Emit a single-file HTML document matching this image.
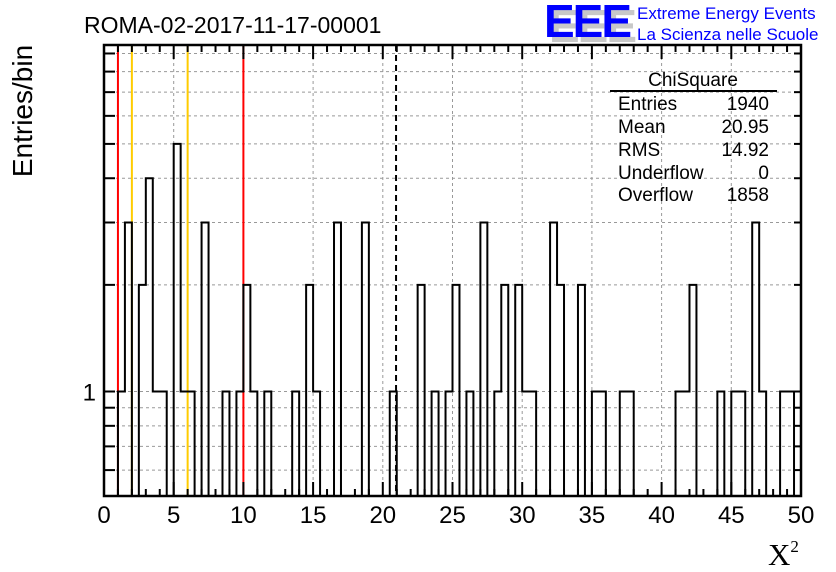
<!DOCTYPE html>
<html><head><meta charset="utf-8">
<style>
html,body{margin:0;padding:0;background:#fff;}
svg{display:block;font-family:"Liberation Sans",sans-serif;}
</style></head>
<body>
<svg id="chart" width="836" height="572" viewBox="0 0 836 572" xmlns="http://www.w3.org/2000/svg">
<rect x="0" y="0" width="836" height="572" fill="#fff"/>
<g id="grid"></g>
<g id="lines"></g>
<g id="hist"></g>
<g id="axes"></g>
<text x="84" y="33" font-size="23" fill="#000">ROMA-02-2017-11-17-00001</text>
<g>
<text x="549" y="42" font-size="46" font-weight="bold" fill="#c8c8c8" letter-spacing="-2">EEE</text>
<text x="544" y="37" font-size="46" font-weight="bold" fill="#0000ff" letter-spacing="-2">EEE</text>
<text x="637" y="19" font-size="17" fill="#0000ff">Extreme Energy Events</text>
<text x="637" y="40" font-size="17" fill="#0000ff">La Scienza nelle Scuole</text>
</g>
<g font-size="19" fill="#000">
<text x="693" y="86" text-anchor="middle">ChiSquare</text>
<line x1="610" y1="91" x2="777" y2="91" stroke="#000" stroke-width="2"/>
<text x="618" y="110">Entries</text><text x="769" y="110" text-anchor="end">1940</text>
<text x="618" y="133">Mean</text><text x="769" y="133" text-anchor="end">20.95</text>
<text x="618" y="156">RMS</text><text x="769" y="156" text-anchor="end">14.92</text>
<text x="618" y="179">Underflow</text><text x="769" y="179" text-anchor="end">0</text>
<text x="618" y="201">Overflow</text><text x="769" y="201" text-anchor="end">1858</text>
</g>
<text transform="translate(32,111) rotate(-90)" text-anchor="middle" font-size="28" fill="#000">Entries/bin</text>
<text x="768" y="565" font-family="'Liberation Serif',serif" font-size="31" fill="#000">X<tspan font-size="17" dy="-13">2</tspan></text>
</svg>
<script>
const counts = [0,0,1,3,0,2,4,1,1,0,5,1,1,0,3,0,0,1,0,1,2,1,0,1,0,0,0,1,0,2,1,0,0,3,0,0,0,3,0,0,0,1,0,0,0,2,0,1,0,1,2,0,1,0,3,0,1,2,0,2,1,1,0,0,3,2,0,0,2,0,1,1,0,0,1,1,0,0,0,0,0,0,1,1,2,0,0,0,1,0,1,1,0,3,1,0,0,1,1,0];
const xTicks = [0,5,10,15,20,25,30,35,40,45,50];
const yGrid = [0.6,0.7,0.8,0.9,1,2,3,4,5,6,7,8,9];
const yLabels = [1];
const redLines = [1,10];
const yellowLines = [2,6];
const meanValue = [20.95];

const X0=104,X1=801,Y0=496,Y1=45, XMIN=0,XMAX=50, YMIN=0.507,YMAX=9.51;
const NS="http://www.w3.org/2000/svg";
const sx=v=>X0+(v-XMIN)/(XMAX-XMIN)*(X1-X0);
const sy=v=>Y0-(Math.log10(v)-Math.log10(YMIN))/(Math.log10(YMAX)-Math.log10(YMIN))*(Y0-Y1);
function mk(tag,attrs,parent){const e=document.createElementNS(NS,tag);for(const k in attrs)e.setAttribute(k,attrs[k]);parent.appendChild(e);return e;}
const grid=document.getElementById('grid'),lines=document.getElementById('lines'),hist=document.getElementById('hist'),axes=document.getElementById('axes');

yGrid.forEach(v=>{const y=sy(v);
 const g=mk('line',{x1:X0,x2:X1,y1:y,y2:y,stroke:'#999','stroke-dasharray':'3,3','stroke-width':1},grid);
 
 
 const t=mk('line',{x1:X0,x2:X0+11,y1:y,y2:y,stroke:'#000','stroke-width':2},axes);
 
 
 const t2=mk('line',{x1:X1-7,x2:X1,y1:y,y2:y,stroke:'#000','stroke-width':2},axes);
 
 
});
xTicks.forEach(v=>{const x=sx(v);
 const g=mk('line',{x1:x,x2:x,y1:Y1,y2:Y0,stroke:'#999','stroke-dasharray':'3,3','stroke-width':1},grid);
 
 
 const l=mk('text',{x:x,y:523,'text-anchor':'middle','font-size':24,fill:'#000'},axes);
 l.textContent=v;
 
 
});
for(let v=XMIN;v<=XMAX;v++){const x=sx(v);const L=(v%5===0)?14:7;
 const a=mk('line',{x1:x,x2:x,y1:Y0,y2:Y0-L,stroke:'#000','stroke-width':2},axes);
 
 
 const b=mk('line',{x1:x,x2:x,y1:Y1,y2:Y1+L,stroke:'#000','stroke-width':2},axes);
 
 
}
yLabels.forEach(v=>{const l=mk('text',{x:96,y:sy(v)+9,'text-anchor':'end','font-size':24,fill:'#000'},axes);
 l.textContent=v;
 
 
});
redLines.forEach(v=>{const l=mk('line',{x1:sx(v),x2:sx(v),y1:Y1,y2:Y0,stroke:'#ff0000','stroke-width':2},lines);
 
 
});
yellowLines.forEach(v=>{const l=mk('line',{x1:sx(v),x2:sx(v),y1:Y1,y2:Y0,stroke:'#ffcc00','stroke-width':2},lines);
 
 
});
const bw=(XMAX-XMIN)/counts.length;
let d='M'+sx(XMIN)+','+Y0;
counts.forEach((c,i)=>{const y=c>0?sy(c):Y0;d+=' L'+sx(XMIN+i*bw)+','+y+' L'+sx(XMIN+(i+1)*bw)+','+y;});
d+=' L'+sx(XMAX)+','+Y0;
const p=mk('path',{d:d,fill:'none',stroke:'#000','stroke-width':2},hist);


meanValue.forEach(v=>{const l=mk('line',{x1:sx(v),x2:sx(v),y1:Y1,y2:Y0,stroke:'#000','stroke-width':2,'stroke-dasharray':'6,4'},hist);
 
 
});
const frame=mk('rect',{x:X0,y:Y1,width:X1-X0,height:Y0-Y1,fill:'none',stroke:'#000','stroke-width':2.5},axes);


</script>
</body></html>
